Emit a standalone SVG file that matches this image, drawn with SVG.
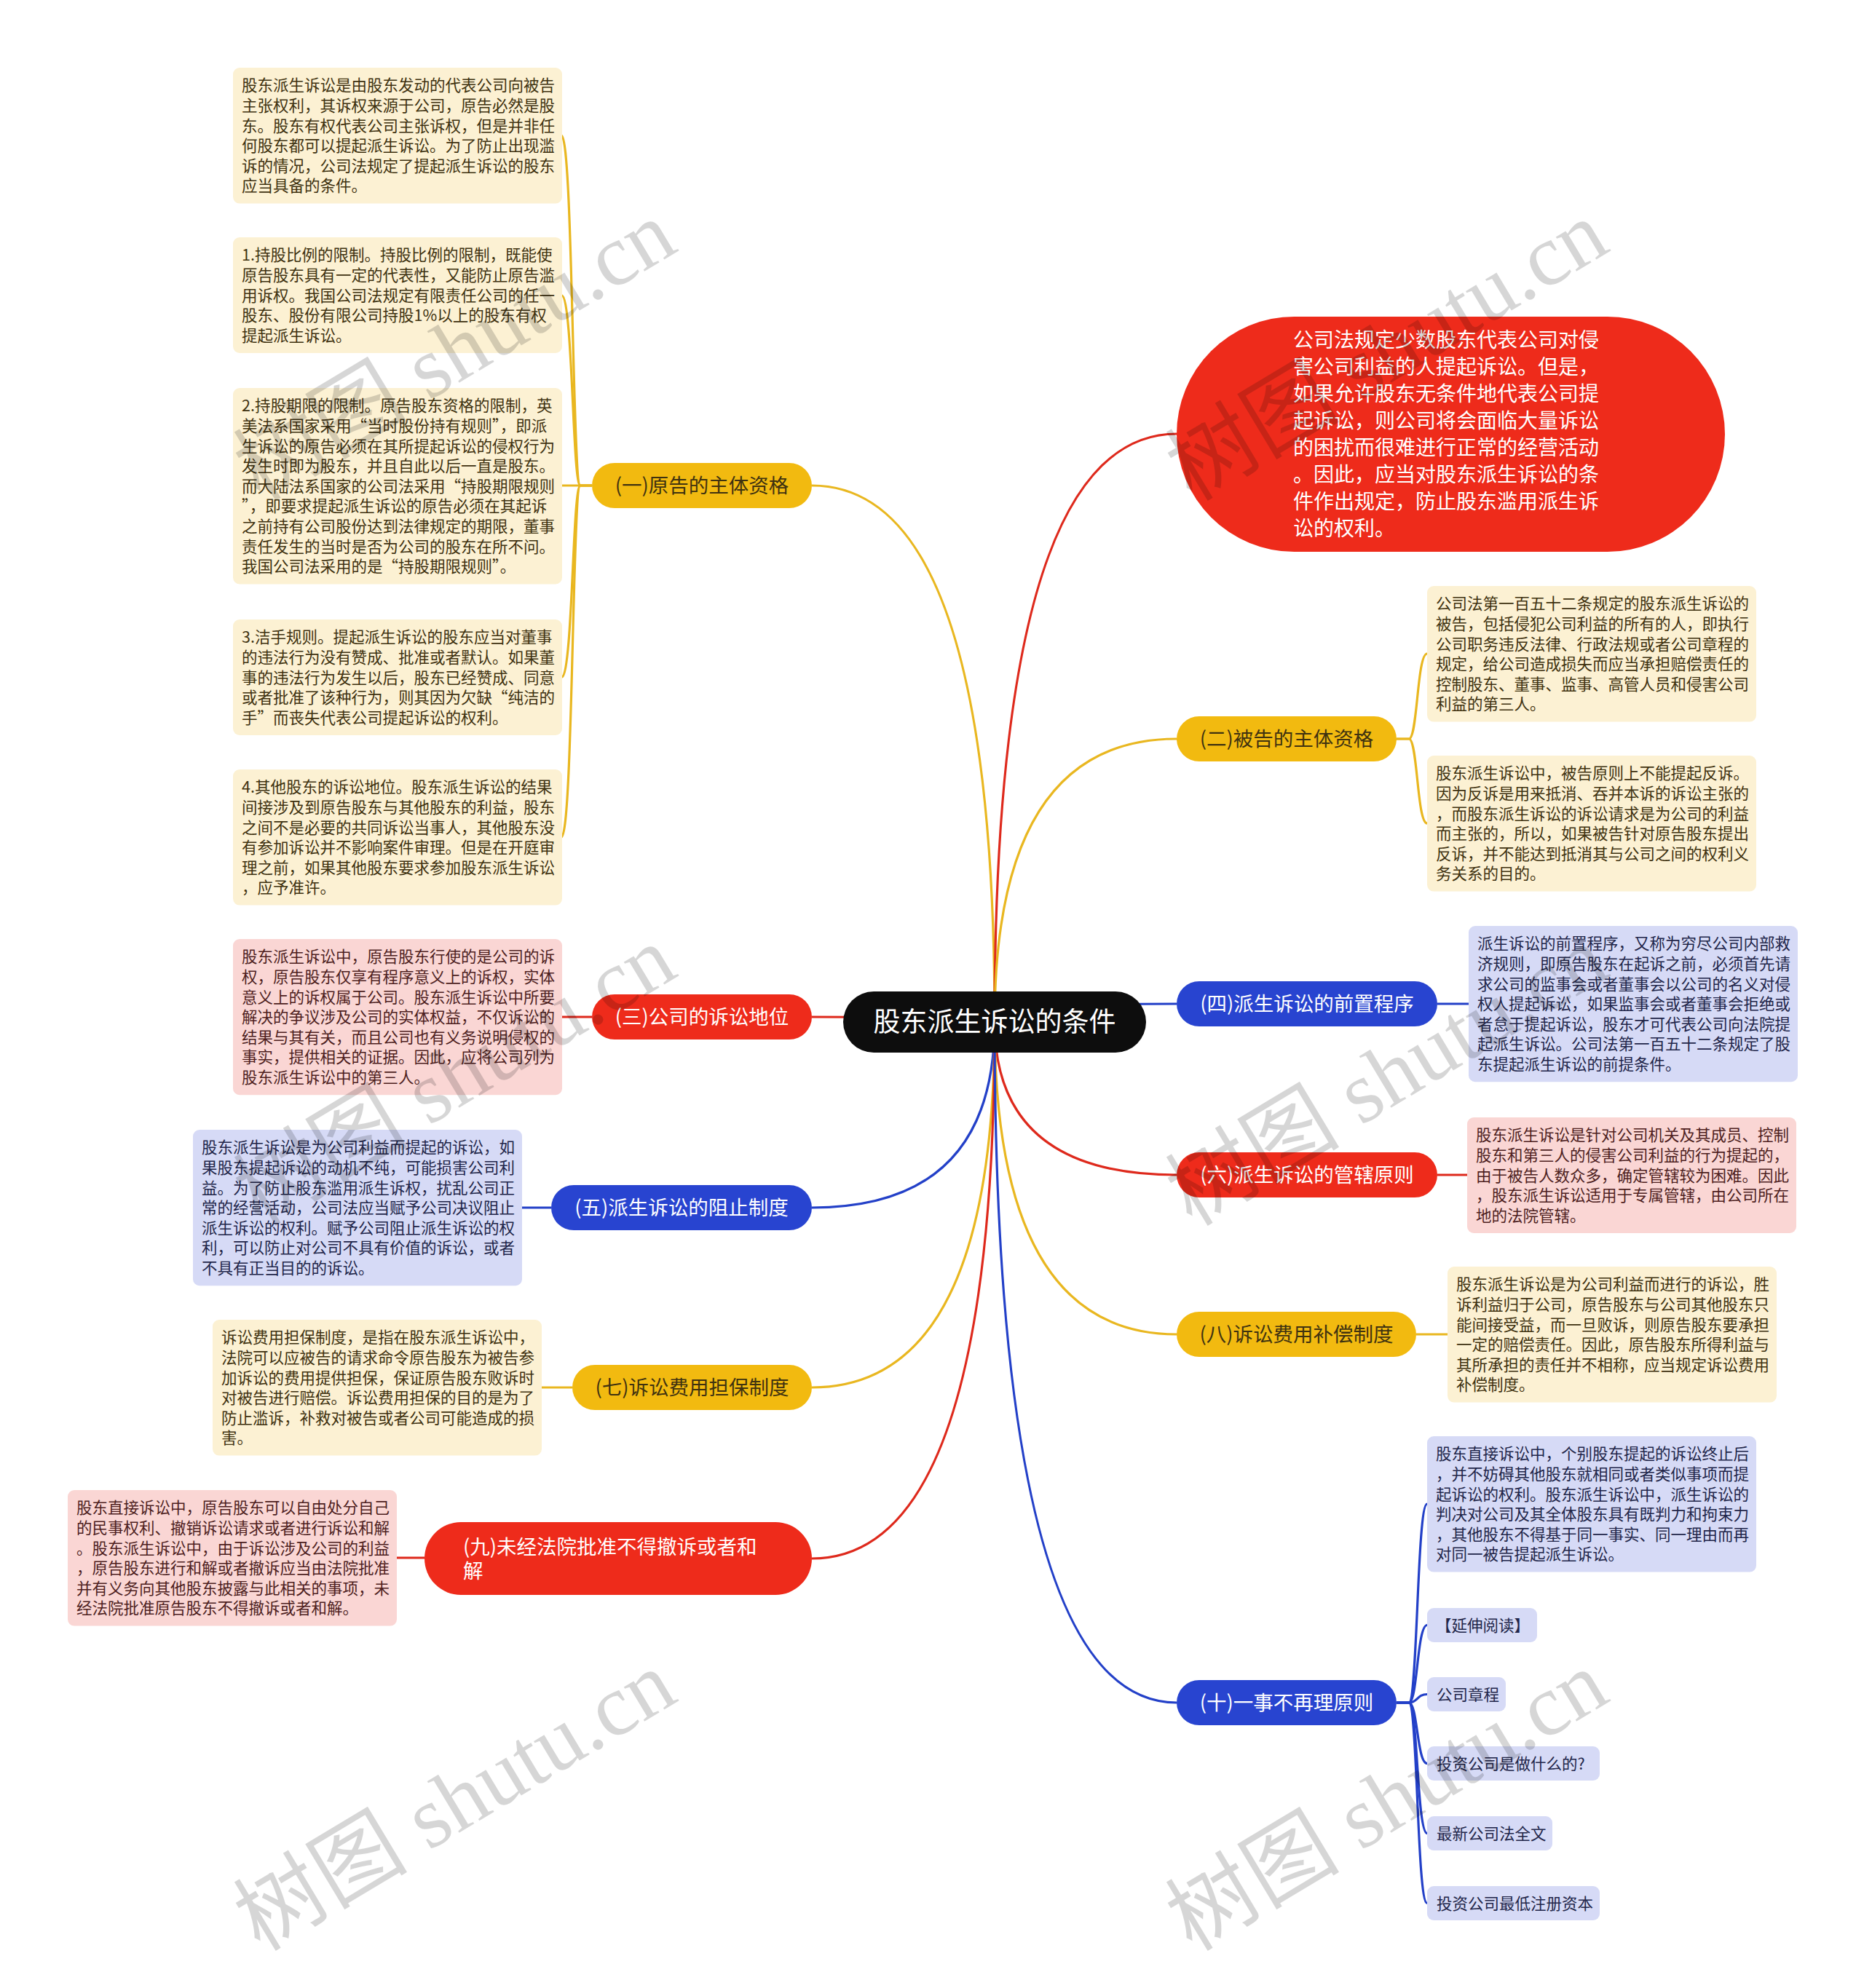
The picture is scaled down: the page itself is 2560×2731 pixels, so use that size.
<svg xmlns="http://www.w3.org/2000/svg" width="2560" height="2731" viewBox="0 0 2560 2731">
<style>
text { font-family: "Noto Sans CJK SC", "Noto Sans", sans-serif; }
.lf { font-size: 21.5px; }
.by { fill: #FCF1D3; }
.br { fill: #FAD6D4; }
.bb { fill: #D6DAF6; }
.ty { fill: #3f3210; }
.tr { fill: #4e1f1f; }
.tb { fill: #22264a; }
.ny { fill: #F2BA10; }
.nr { fill: #EE2B1B; }
.nb { fill: #2844D0; }
.nt { font-size: 27.5px; text-anchor: middle; }
.cy { stroke: #E9B720; }
.cr { stroke: #DE291C; }
.cb { stroke: #2340C8; }
#connectors path { fill: none; stroke-width: 3.2; }
.wm { font-family: "Liberation Serif", "Noto Sans CJK SC", serif; font-size: 120px; fill: #000; fill-opacity: 0.16; }
</style>
<rect width="2560" height="2731" fill="#ffffff"/>

<g id="connectors">
  <path class="cy" d="M1366 1404 Q1366 667 1115 667"/>
  <path class="cr" d="M1366 1404 Q1366 596 1616 596"/>
  <path class="cy" d="M1366 1404 Q1366 1015 1616 1015"/>
  <path class="cr" d="M1366 1404 Q1366 1397 1115 1397"/>
  <path class="cb" d="M1366 1404 Q1366 1379 1616 1379"/>
  <path class="cb" d="M1366 1404 Q1366 1659 1115 1659"/>
  <path class="cr" d="M1366 1404 Q1366 1614 1616 1614"/>
  <path class="cy" d="M1366 1404 Q1366 1906 1115 1906"/>
  <path class="cy" d="M1366 1404 Q1366 1833 1616 1833"/>
  <path class="cr" d="M1366 1404 Q1366 2141 1115 2141"/>
  <path class="cb" d="M1366 1404 Q1366 2339 1616 2339"/>

  <path class="cy" d="M813 667 H797 C786 667 787 186 771 186"/>
  <path class="cy" d="M813 667 H797 C786 667 787 405.5 771 405.5"/>
  <path class="cy" d="M813 667 H771"/>
  <path class="cy" d="M813 667 H797 C786 667 787 930.5 771 930.5"/>
  <path class="cy" d="M813 667 H797 C786 667 787 1150 771 1150"/>

  <path class="cy" d="M1918 1015 H1935 C1947 1015 1946 898 1960 898"/>
  <path class="cy" d="M1918 1015 H1935 C1947 1015 1946 1131 1960 1131"/>

  <path class="cr" d="M813 1397 H771"/>
  <path class="cb" d="M757 1659 H717"/>
  <path class="cy" d="M786 1906 H744"/>
  <path class="cr" d="M583 2140 H545"/>
  <path class="cb" d="M1974 1379 H2017"/>
  <path class="cr" d="M1974 1614 H2015"/>
  <path class="cy" d="M1945 1833 H1988"/>

  <path class="cb" d="M1918 2339 H1935 C1947 2339 1946 2066 1960 2066"/>
  <path class="cb" d="M1918 2339 H1935 C1947 2339 1946 2232.5 1960 2232.5"/>
  <path class="cb" d="M1918 2339 H1935 C1947 2339 1946 2327.5 1960 2327.5"/>
  <path class="cb" d="M1918 2339 H1935 C1947 2339 1946 2422.5 1960 2422.5"/>
  <path class="cb" d="M1918 2339 H1935 C1947 2339 1946 2518.5 1960 2518.5"/>
  <path class="cb" d="M1918 2339 H1935 C1947 2339 1946 2614.5 1960 2614.5"/>
</g>

<g id="root">
  <rect x="1158" y="1362" width="416" height="84" rx="42" fill="#0d0d0d"/>
  <text x="1366" y="1417" font-size="37" fill="#ffffff" text-anchor="middle">股东派生诉讼的条件</text>
</g>

<g id="intro">
  <rect x="1616" y="435" width="753" height="323" rx="161.5" class="nr"/>
  <text font-size="28" fill="#ffffff">
    <tspan x="1776" y="477">公司法规定少数股东代表公司对侵</tspan>
    <tspan x="1776" y="514">害公司利益的人提起诉讼。但是，</tspan>
    <tspan x="1776" y="551">如果允许股东无条件地代表公司提</tspan>
    <tspan x="1776" y="588">起诉讼，则公司将会面临大量诉讼</tspan>
    <tspan x="1776" y="625">的困扰而很难进行正常的经营活动</tspan>
    <tspan x="1776" y="662">。因此，应当对股东派生诉讼的条</tspan>
    <tspan x="1776" y="699">件作出规定，防止股东滥用派生诉</tspan>
    <tspan x="1776" y="736">讼的权利。</tspan>
  </text>
</g>

<g id="n1">
  <rect x="813" y="636" width="302" height="62" rx="31" class="ny"/>
  <text x="964" y="677" class="nt ty">(一)原告的主体资格</text>
</g>
<g id="n2">
  <rect x="1616" y="984" width="302" height="62" rx="31" class="ny"/>
  <text x="1767" y="1025" class="nt ty">(二)被告的主体资格</text>
</g>
<g id="n3">
  <rect x="813" y="1366" width="302" height="62" rx="31" class="nr"/>
  <text x="964" y="1407" class="nt" fill="#ffffff">(三)公司的诉讼地位</text>
</g>
<g id="n4">
  <rect x="1616" y="1348" width="358" height="62" rx="31" class="nb"/>
  <text x="1795" y="1389" class="nt" fill="#ffffff">(四)派生诉讼的前置程序</text>
</g>
<g id="n5">
  <rect x="757" y="1628" width="358" height="62" rx="31" class="nb"/>
  <text x="936" y="1669" class="nt" fill="#ffffff">(五)派生诉讼的阻止制度</text>
</g>
<g id="n6">
  <rect x="1616" y="1583" width="358" height="62" rx="31" class="nr"/>
  <text x="1795" y="1624" class="nt" fill="#ffffff">(六)派生诉讼的管辖原则</text>
</g>
<g id="n7">
  <rect x="786" y="1875" width="329" height="62" rx="31" class="ny"/>
  <text x="950.5" y="1916" class="nt ty">(七)诉讼费用担保制度</text>
</g>
<g id="n8">
  <rect x="1616" y="1802" width="329" height="62" rx="31" class="ny"/>
  <text x="1780.5" y="1843" class="nt ty">(八)诉讼费用补偿制度</text>
</g>
<g id="n9">
  <rect x="583" y="2091" width="532" height="100" rx="50" class="nr"/>
  <text font-size="27.5" fill="#ffffff">
    <tspan x="636" y="2135">(九)未经法院批准不得撤诉或者和</tspan>
    <tspan x="636" y="2168">解</tspan>
  </text>
</g>
<g id="n10">
  <rect x="1616" y="2308" width="302" height="62" rx="31" class="nb"/>
  <text x="1767" y="2349" class="nt" fill="#ffffff">(十)一事不再理原则</text>
</g>

<g id="l1a">
  <rect x="320" y="93" width="452" height="186.6" rx="9" class="by"/>
  <text class="lf ty">
    <tspan x="332" y="125.3">股东派生诉讼是由股东发动的代表公司向被告</tspan>
    <tspan x="332" dy="27.6">主张权利，其诉权来源于公司，原告必然是股</tspan>
    <tspan x="332" dy="27.6">东。股东有权代表公司主张诉权，但是并非任</tspan>
    <tspan x="332" dy="27.6">何股东都可以提起派生诉讼。为了防止出现滥</tspan>
    <tspan x="332" dy="27.6">诉的情况，公司法规定了提起派生诉讼的股东</tspan>
    <tspan x="332" dy="27.6">应当具备的条件。</tspan>
  </text>
</g>
<g id="l1b">
  <rect x="320" y="326" width="452" height="159" rx="9" class="by"/>
  <text class="lf ty">
    <tspan x="332" y="358.3">1.持股比例的限制。持股比例的限制，既能使</tspan>
    <tspan x="332" dy="27.6">原告股东具有一定的代表性，又能防止原告滥</tspan>
    <tspan x="332" dy="27.6">用诉权。我国公司法规定有限责任公司的任一</tspan>
    <tspan x="332" dy="27.6">股东、股份有限公司持股1%以上的股东有权</tspan>
    <tspan x="332" dy="27.6">提起派生诉讼。</tspan>
  </text>
</g>
<g id="l1c">
  <rect x="320" y="533" width="452" height="269.4" rx="9" class="by"/>
  <text class="lf ty">
    <tspan x="332" y="565.3">2.持股期限的限制。原告股东资格的限制，英</tspan>
    <tspan x="332" dy="27.6">美法系国家采用“当时股份持有规则”，即派</tspan>
    <tspan x="332" dy="27.6">生诉讼的原告必须在其所提起诉讼的侵权行为</tspan>
    <tspan x="332" dy="27.6">发生时即为股东，并且自此以后一直是股东。</tspan>
    <tspan x="332" dy="27.6">而大陆法系国家的公司法采用“持股期限规则</tspan>
    <tspan x="332" dy="27.6">”，即要求提起派生诉讼的原告必须在其起诉</tspan>
    <tspan x="332" dy="27.6">之前持有公司股份达到法律规定的期限，董事</tspan>
    <tspan x="332" dy="27.6">责任发生的当时是否为公司的股东在所不问。</tspan>
    <tspan x="332" dy="27.6">我国公司法采用的是“持股期限规则”。</tspan>
  </text>
</g>
<g id="l1d">
  <rect x="320" y="851" width="452" height="159" rx="9" class="by"/>
  <text class="lf ty">
    <tspan x="332" y="883.3">3.洁手规则。提起派生诉讼的股东应当对董事</tspan>
    <tspan x="332" dy="27.6">的违法行为没有赞成、批准或者默认。如果董</tspan>
    <tspan x="332" dy="27.6">事的违法行为发生以后，股东已经赞成、同意</tspan>
    <tspan x="332" dy="27.6">或者批准了该种行为，则其因为欠缺“纯洁的</tspan>
    <tspan x="332" dy="27.6">手”而丧失代表公司提起诉讼的权利。</tspan>
  </text>
</g>
<g id="l1e">
  <rect x="320" y="1057" width="452" height="186.6" rx="9" class="by"/>
  <text class="lf ty">
    <tspan x="332" y="1089.3">4.其他股东的诉讼地位。股东派生诉讼的结果</tspan>
    <tspan x="332" dy="27.6">间接涉及到原告股东与其他股东的利益，股东</tspan>
    <tspan x="332" dy="27.6">之间不是必要的共同诉讼当事人，其他股东没</tspan>
    <tspan x="332" dy="27.6">有参加诉讼并不影响案件审理。但是在开庭审</tspan>
    <tspan x="332" dy="27.6">理之前，如果其他股东要求参加股东派生诉讼</tspan>
    <tspan x="332" dy="27.6">，应予准许。</tspan>
  </text>
</g>
<g id="l3">
  <rect x="320" y="1290" width="452" height="214.2" rx="9" class="br"/>
  <text class="lf tr">
    <tspan x="332" y="1322.3">股东派生诉讼中，原告股东行使的是公司的诉</tspan>
    <tspan x="332" dy="27.6">权，原告股东仅享有程序意义上的诉权，实体</tspan>
    <tspan x="332" dy="27.6">意义上的诉权属于公司。股东派生诉讼中所要</tspan>
    <tspan x="332" dy="27.6">解决的争议涉及公司的实体权益，不仅诉讼的</tspan>
    <tspan x="332" dy="27.6">结果与其有关，而且公司也有义务说明侵权的</tspan>
    <tspan x="332" dy="27.6">事实，提供相关的证据。因此，应将公司列为</tspan>
    <tspan x="332" dy="27.6">股东派生诉讼中的第三人。</tspan>
  </text>
</g>
<g id="l5">
  <rect x="265" y="1552" width="452" height="214.2" rx="9" class="bb"/>
  <text class="lf tb">
    <tspan x="277" y="1584.3">股东派生诉讼是为公司利益而提起的诉讼，如</tspan>
    <tspan x="277" dy="27.6">果股东提起诉讼的动机不纯，可能损害公司利</tspan>
    <tspan x="277" dy="27.6">益。为了防止股东滥用派生诉权，扰乱公司正</tspan>
    <tspan x="277" dy="27.6">常的经营活动，公司法应当赋予公司决议阻止</tspan>
    <tspan x="277" dy="27.6">派生诉讼的权利。赋予公司阻止派生诉讼的权</tspan>
    <tspan x="277" dy="27.6">利，可以防止对公司不具有价值的诉讼，或者</tspan>
    <tspan x="277" dy="27.6">不具有正当目的的诉讼。</tspan>
  </text>
</g>
<g id="l7">
  <rect x="292" y="1813" width="452" height="186.6" rx="9" class="by"/>
  <text class="lf ty">
    <tspan x="304" y="1845.3">诉讼费用担保制度，是指在股东派生诉讼中，</tspan>
    <tspan x="304" dy="27.6">法院可以应被告的请求命令原告股东为被告参</tspan>
    <tspan x="304" dy="27.6">加诉讼的费用提供担保，保证原告股东败诉时</tspan>
    <tspan x="304" dy="27.6">对被告进行赔偿。诉讼费用担保的目的是为了</tspan>
    <tspan x="304" dy="27.6">防止滥诉，补救对被告或者公司可能造成的损</tspan>
    <tspan x="304" dy="27.6">害。</tspan>
  </text>
</g>
<g id="l9">
  <rect x="93" y="2047" width="452" height="186.6" rx="9" class="br"/>
  <text class="lf tr">
    <tspan x="105" y="2079.3">股东直接诉讼中，原告股东可以自由处分自己</tspan>
    <tspan x="105" dy="27.6">的民事权利、撤销诉讼请求或者进行诉讼和解</tspan>
    <tspan x="105" dy="27.6">。股东派生诉讼中，由于诉讼涉及公司的利益</tspan>
    <tspan x="105" dy="27.6">，原告股东进行和解或者撤诉应当由法院批准</tspan>
    <tspan x="105" dy="27.6">并有义务向其他股东披露与此相关的事项，未</tspan>
    <tspan x="105" dy="27.6">经法院批准原告股东不得撤诉或者和解。</tspan>
  </text>
</g>
<g id="r2a">
  <rect x="1960" y="805" width="452" height="186.6" rx="9" class="by"/>
  <text class="lf ty">
    <tspan x="1972" y="837.3">公司法第一百五十二条规定的股东派生诉讼的</tspan>
    <tspan x="1972" dy="27.6">被告，包括侵犯公司利益的所有的人，即执行</tspan>
    <tspan x="1972" dy="27.6">公司职务违反法律、行政法规或者公司章程的</tspan>
    <tspan x="1972" dy="27.6">规定，给公司造成损失而应当承担赔偿责任的</tspan>
    <tspan x="1972" dy="27.6">控制股东、董事、监事、高管人员和侵害公司</tspan>
    <tspan x="1972" dy="27.6">利益的第三人。</tspan>
  </text>
</g>
<g id="r2b">
  <rect x="1960" y="1038" width="452" height="186.6" rx="9" class="by"/>
  <text class="lf ty">
    <tspan x="1972" y="1070.3">股东派生诉讼中，被告原则上不能提起反诉。</tspan>
    <tspan x="1972" dy="27.6">因为反诉是用来抵消、吞并本诉的诉讼主张的</tspan>
    <tspan x="1972" dy="27.6">，而股东派生诉讼的诉讼请求是为公司的利益</tspan>
    <tspan x="1972" dy="27.6">而主张的，所以，如果被告针对原告股东提出</tspan>
    <tspan x="1972" dy="27.6">反诉，并不能达到抵消其与公司之间的权利义</tspan>
    <tspan x="1972" dy="27.6">务关系的目的。</tspan>
  </text>
</g>
<g id="r4">
  <rect x="2017" y="1272" width="452" height="214.2" rx="9" class="bb"/>
  <text class="lf tb">
    <tspan x="2029" y="1304.3">派生诉讼的前置程序，又称为穷尽公司内部救</tspan>
    <tspan x="2029" dy="27.6">济规则，即原告股东在起诉之前，必须首先请</tspan>
    <tspan x="2029" dy="27.6">求公司的监事会或者董事会以公司的名义对侵</tspan>
    <tspan x="2029" dy="27.6">权人提起诉讼，如果监事会或者董事会拒绝或</tspan>
    <tspan x="2029" dy="27.6">者怠于提起诉讼，股东才可代表公司向法院提</tspan>
    <tspan x="2029" dy="27.6">起派生诉讼。公司法第一百五十二条规定了股</tspan>
    <tspan x="2029" dy="27.6">东提起派生诉讼的前提条件。</tspan>
  </text>
</g>
<g id="r6">
  <rect x="2015" y="1535" width="452" height="159" rx="9" class="br"/>
  <text class="lf tr">
    <tspan x="2027" y="1567.3">股东派生诉讼是针对公司机关及其成员、控制</tspan>
    <tspan x="2027" dy="27.6">股东和第三人的侵害公司利益的行为提起的，</tspan>
    <tspan x="2027" dy="27.6">由于被告人数众多，确定管辖较为困难。因此</tspan>
    <tspan x="2027" dy="27.6">，股东派生诉讼适用于专属管辖，由公司所在</tspan>
    <tspan x="2027" dy="27.6">地的法院管辖。</tspan>
  </text>
</g>
<g id="r8">
  <rect x="1988" y="1740" width="452" height="186.6" rx="9" class="by"/>
  <text class="lf ty">
    <tspan x="2000" y="1772.3">股东派生诉讼是为公司利益而进行的诉讼，胜</tspan>
    <tspan x="2000" dy="27.6">诉利益归于公司，原告股东与公司其他股东只</tspan>
    <tspan x="2000" dy="27.6">能间接受益，而一旦败诉，则原告股东要承担</tspan>
    <tspan x="2000" dy="27.6">一定的赔偿责任。因此，原告股东所得利益与</tspan>
    <tspan x="2000" dy="27.6">其所承担的责任并不相称，应当规定诉讼费用</tspan>
    <tspan x="2000" dy="27.6">补偿制度。</tspan>
  </text>
</g>
<g id="r10a">
  <rect x="1960" y="1973" width="452" height="186.6" rx="9" class="bb"/>
  <text class="lf tb">
    <tspan x="1972" y="2005.3">股东直接诉讼中，个别股东提起的诉讼终止后</tspan>
    <tspan x="1972" dy="27.6">，并不妨碍其他股东就相同或者类似事项而提</tspan>
    <tspan x="1972" dy="27.6">起诉讼的权利。股东派生诉讼中，派生诉讼的</tspan>
    <tspan x="1972" dy="27.6">判决对公司及其全体股东具有既判力和拘束力</tspan>
    <tspan x="1972" dy="27.6">，其他股东不得基于同一事实、同一理由而再</tspan>
    <tspan x="1972" dy="27.6">对同一被告提起派生诉讼。</tspan>
  </text>
</g>
<g id="r10b">
  <rect x="1960" y="2209" width="151" height="47" rx="9" class="bb"/>
  <text x="1972" y="2240.5" class="lf tb">【延伸阅读】</text>
</g>
<g id="r10c">
  <rect x="1960" y="2304" width="108" height="47" rx="9" class="bb"/>
  <text x="1973" y="2335.5" class="lf tb">公司章程</text>
</g>
<g id="r10d">
  <rect x="1960" y="2399" width="237" height="47" rx="9" class="bb"/>
  <text x="1973" y="2430.5" class="lf tb">投资公司是做什么的?</text>
</g>
<g id="r10e">
  <rect x="1960" y="2495" width="172" height="47" rx="9" class="bb"/>
  <text x="1973" y="2526.5" class="lf tb">最新公司法全文</text>
</g>
<g id="r10f">
  <rect x="1960" y="2591" width="237" height="47" rx="9" class="bb"/>
  <text x="1973" y="2622.5" class="lf tb">投资公司最低注册资本</text>
</g>

<g id="watermarks">
  <text class="wm" transform="translate(357 690) rotate(-31)">树图 shutu.cn</text>
  <text class="wm" transform="translate(1637 690) rotate(-31)">树图 shutu.cn</text>
  <text class="wm" transform="translate(357 1686) rotate(-31)">树图 shutu.cn</text>
  <text class="wm" transform="translate(1637 1686) rotate(-31)">树图 shutu.cn</text>
  <text class="wm" transform="translate(357 2682) rotate(-31)">树图 shutu.cn</text>
  <text class="wm" transform="translate(1637 2682) rotate(-31)">树图 shutu.cn</text>
</g>
</svg>
